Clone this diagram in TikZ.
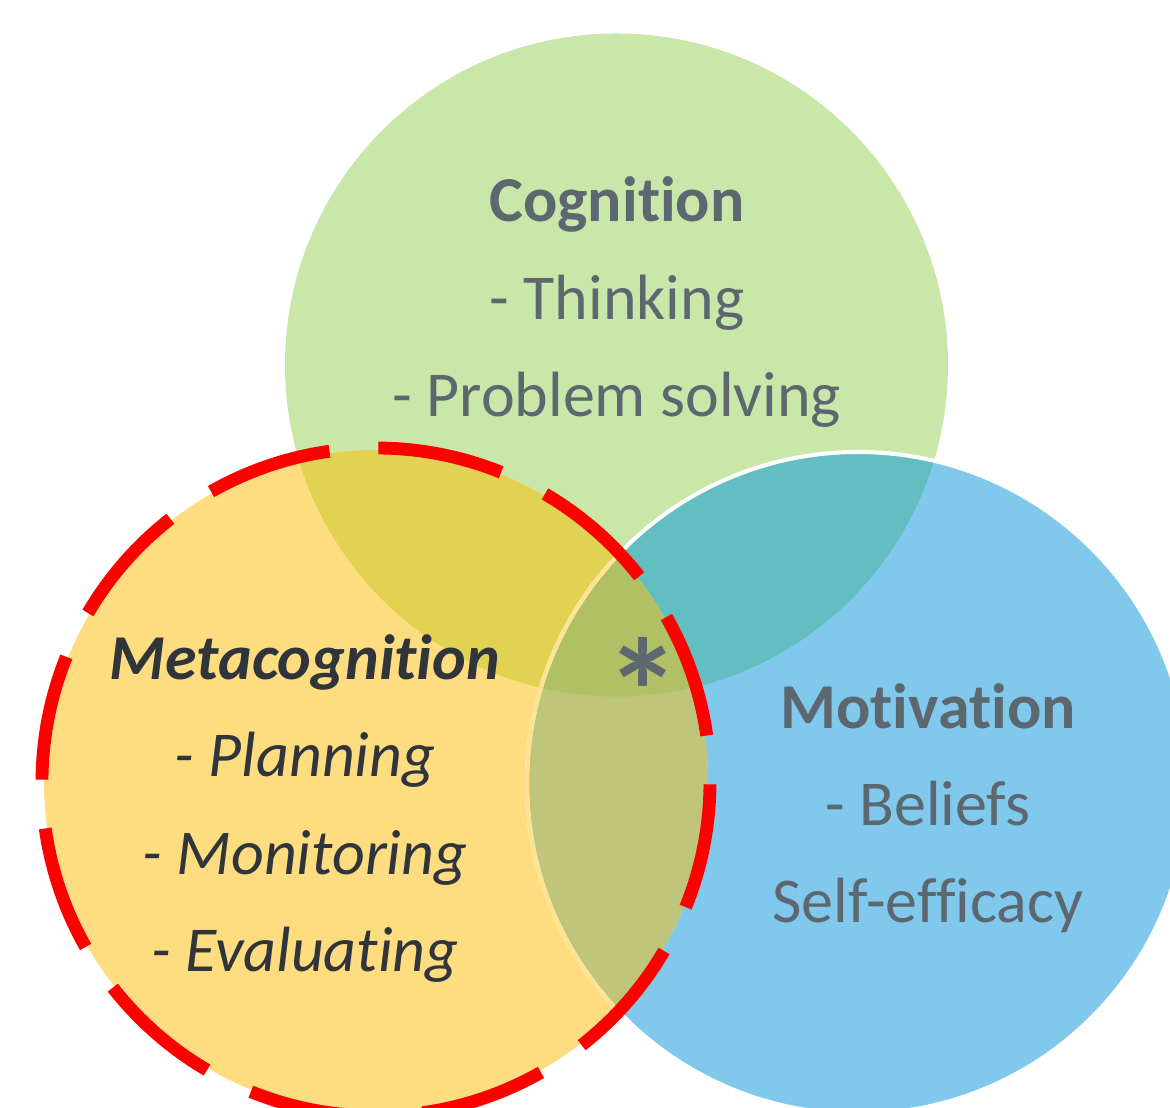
\documentclass[tikz,border=0pt]{standalone}
\usepackage{fontspec}
\setmainfont{Carlito}[Ligatures=NoCommon]
\definecolor{gOnly}{HTML}{C9E7A8}
\definecolor{bOnly}{HTML}{80C9EC}
\definecolor{yOnly}{HTML}{FEDD80}
\definecolor{gyMix}{HTML}{E1D352}
\definecolor{gbMix}{HTML}{62BEC0}
\definecolor{ybMix}{HTML}{BFC57A}
\definecolor{gybMix}{HTML}{B1C064}
\definecolor{rimYellow}{HTML}{FFE394}
\definecolor{txtGray}{HTML}{5D6770}
\definecolor{txtDark}{HTML}{2F353B}
\definecolor{dashRed}{HTML}{FF0000}
\begin{document}
\begin{tikzpicture}[x=0.02cm,y=0.02cm,
  lbl/.style={anchor=base, inner sep=0pt, text=txtGray, font=\fontsize{36.4}{44}\selectfont},
  lblhead/.style={lbl, font=\fontsize{36.4}{44}\selectfont\bfseries},
  metalbl/.style={lbl, text=txtDark, font=\fontsize{36.4}{44}\selectfont\itshape},
  metahead/.style={metalbl, font=\fontsize{36.4}{44}\selectfont\bfseries\itshape},
  reddash/.style={draw=dashRed, line width=7.3pt, line cap=butt}]
\useasboundingbox (0,0) rectangle (1170,1108);

% circle centres
\coordinate (gc) at (616.5,743);
\coordinate (bc) at (858,325);
\coordinate (yc) at (376,326);

% single-circle areas
\fill[gOnly] (gc) circle[radius=331.5];
\fill[bOnly] (bc) circle[radius=331];
\fill[yOnly] (yc) circle[radius=332];

% metacognition / motivation overlap
\begin{scope}
  \clip (bc) circle[radius=331];
  \fill[ybMix] (yc) circle[radius=332];
\end{scope}

% overlaps with cognition
\begin{scope}
  \clip (gc) circle[radius=331.5];
  \fill[gbMix] (bc) circle[radius=331];
  \fill[gyMix] (yc) circle[radius=332];
  \clip (bc) circle[radius=331];
  \fill[gybMix] (yc) circle[radius=332];
\end{scope}

% rim of the motivation circle
\draw[white, line width=2.3pt] (bc) circle[radius=331];
\begin{scope}
  \clip (yc) circle[radius=332];
  \draw[rimYellow, line width=2.3pt] (bc) circle[radius=331];
\end{scope}

% dashed ring around metacognition
\begin{scope}[shift={(376,326)}]
  \foreach \a in {8,38,...,338}
    \draw[reddash] (\a:334) arc[start angle=\a, delta angle=21.6, radius=334];
\end{scope}

% labels
\node[lblhead] (cogT) at (617,886) {Cognition};
\node[lbl] (cog1) at (617,788) {- Thinking};
\node[lbl] (cog2) at (617,691) {- Problem solving};

\node[metahead] (metaT) at (305,428) {Metacognition};
\node[metalbl] (meta1) at (305,331) {- Planning};
\node[metalbl] (meta2) at (305,233) {- Monitoring};
\node[metalbl] (meta3) at (305,136) {- Evaluating};

\node[lblhead] (motT) at (928,379) {Motivation};
\node[lbl] (mot1) at (928,282) {- Beliefs};
\node[lbl] (mot2) at (928,185) {Self-efficacy};

\node[anchor=north, inner sep=0pt, text=txtGray, font=\fontsize{86}{90}\selectfont\bfseries] (star) at (643,471) {*};
\end{tikzpicture}
\end{document}
